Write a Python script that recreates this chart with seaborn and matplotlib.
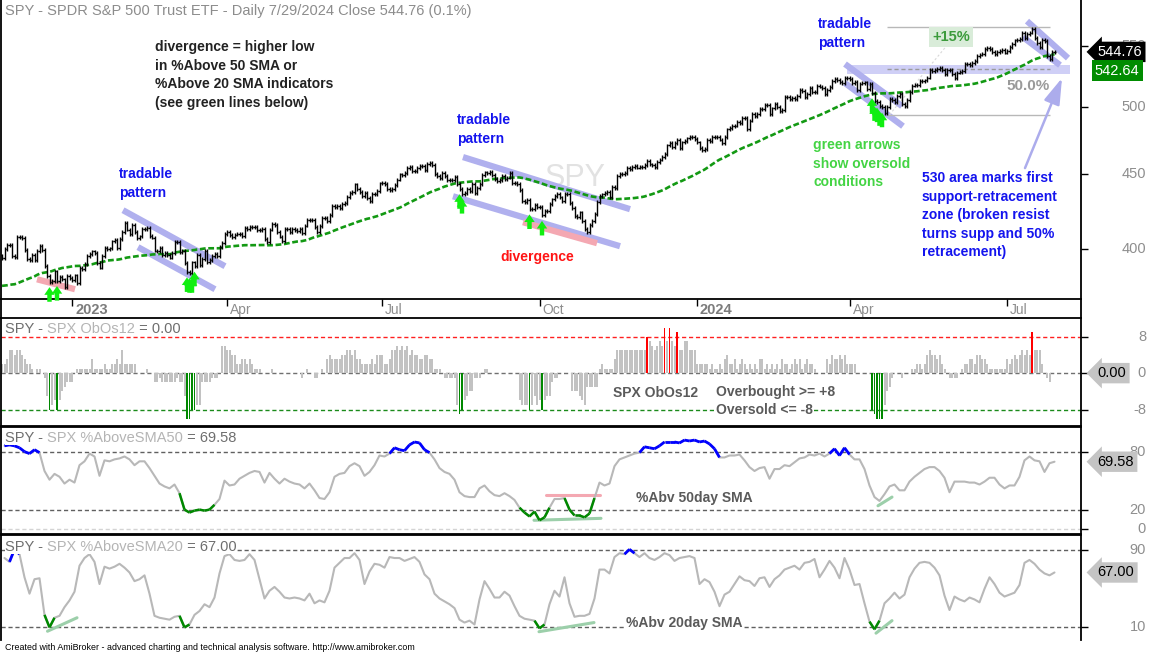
import numpy as np
import pandas as pd
import matplotlib
matplotlib.use('Agg')
import matplotlib.pyplot as plt
from matplotlib.lines import Line2D
from matplotlib.collections import LineCollection
from matplotlib.ticker import NullLocator
import seaborn as sns

sns.set_style('white')
plt.rcParams['font.family'] = ['Liberation Sans', 'DejaVu Sans']

# SPY closes 9/8/2022 - 11/18/2022, only used to seed the 50 day average
warmup_closes = [
    399.4, 405.5, 409.8, 392.0, 393.4, 388.9, 385.6, 388.6, 384.1, 377.4, 374.2, 367.9, 364.3, 363.4, 370.5, 360.2, 357.2,
    366.6, 377.9, 377.1, 373.2, 362.8, 360.0, 357.7, 356.6, 365.9, 357.6, 367.0, 371.1, 368.5, 365.4, 374.3, 378.9, 384.9,
    382.0, 379.9, 389.0, 386.2,
    384.5, 374.9, 371.0, 376.4, 379.9, 382.0, 374.1, 394.7, 398.5, 395.1, 398.5, 395.2, 394.2, 396.0,
]

# SPY daily closes 11/21/2022 - 7/29/2024 (bar 0 .. 421)
closes = [
    394.6, 399.9, 402.4, 402.3, 395.9, 395.2, 407.7,
    407.4, 406.9, 399.6, 393.8, 393.2, 396.2, 393.3, 398.9, 402.0, 399.4, 389.6, 383.3, 380.0, 380.5, 386.2, 380.7,
    382.9, 381.4, 376.7, 383.4, 382.4,
    # 2023
    380.8, 383.8, 379.4, 388.1, 387.9, 390.6, 395.5, 396.8, 398.5, 397.8, 391.5, 388.6, 395.9, 400.6, 400.2, 400.4,
    404.8, 405.7, 400.6, 406.5,
    410.8, 416.8, 412.4, 409.8, 415.2, 410.7, 407.1, 408.0, 412.8, 412.6, 413.7, 408.3, 407.3, 399.1, 398.7, 400.7,
    396.4, 397.4, 396.3,
    394.7, 397.8, 404.2, 404.5, 398.3, 398.9, 391.6, 385.9, 385.4, 391.7, 389.3, 396.5, 390.0, 393.7, 398.9, 392.1,
    393.2, 395.8, 397.0, 395.6, 401.4, 403.7, 409.4,
    411.0, 408.7, 407.6, 409.2, 409.6, 409.7, 408.1, 413.5, 412.5, 413.9, 414.2, 414.2, 411.9, 412.2, 412.6, 406.1,
    404.4, 412.4, 415.9,
    415.5, 410.8, 407.9, 405.0, 412.6, 412.6, 410.8, 412.9, 412.2, 411.6, 412.8, 410.2, 415.0, 418.6, 418.6, 418.8,
    414.1, 411.1, 414.6, 420.0, 420.2, 417.8,
    421.8, 427.9, 427.1, 428.0, 426.6, 429.1, 429.9, 433.8, 436.7, 437.2, 442.6, 439.5, 437.2, 434.9, 436.5, 433.2,
    431.4, 436.2, 436.3, 438.1, 443.3,
    443.8, 443.1, 439.7, 438.6, 439.7, 442.5, 446.0, 449.6, 449.3, 450.8, 454.2, 455.2, 452.2, 452.2, 454.2, 455.4,
    455.5, 452.5, 456.9, 457.8,
    456.5, 450.1, 448.8, 446.8, 450.7, 448.8, 445.8, 445.9, 445.7, 448.1, 442.9, 439.6, 436.3, 436.5, 439.3, 438.2,
    442.9, 436.9, 440.0, 442.8, 449.2, 451.0, 450.4,
    451.2, 449.2, 446.2, 444.9, 445.5, 448.5, 446.5, 447.4, 450.4, 443.4, 443.6, 442.7, 438.6, 431.4, 430.4, 432.2,
    425.9, 426.1, 428.5, 427.5,
    427.3, 421.6, 424.7, 424.5, 429.5, 432.3, 434.5, 436.3, 433.7, 431.5, 436.0, 436.0, 430.2, 426.4, 421.2, 420.5,
    423.6, 418.0, 412.6, 410.7, 415.6, 418.2,
    422.7, 430.8, 434.7, 435.7, 436.9, 437.3, 433.8, 440.6, 440.2, 448.7, 449.7, 450.2, 450.8, 454.2, 453.3, 455.0,
    455.3, 454.5, 454.9, 454.6, 456.4,
    459.1, 456.7, 456.6, 454.8, 458.2, 460.2, 462.0, 464.1, 470.5, 472.0, 469.3, 472.0, 474.8, 468.3, 472.7, 473.7,
    475.7, 476.5, 476.7, 475.3,
    # 2024
    472.7, 468.8, 467.3, 467.9, 474.6, 473.9, 476.6, 476.4, 476.7, 474.9, 472.3, 476.5, 482.4, 483.5, 484.9, 485.4,
    488.0, 487.4, 491.3, 490.9, 482.9,
    489.2, 494.4, 492.6, 494.0, 498.1, 498.3, 501.2, 501.0, 494.1, 498.6, 502.0, 499.5, 496.8, 497.2, 507.5, 507.9,
    506.0, 506.9, 506.3, 508.1,
    512.9, 512.3, 507.2, 509.8, 514.8, 511.7, 511.3, 516.8, 516.0, 515.0, 509.8, 512.9, 515.7, 520.5, 522.2, 521.2,
    519.8, 518.8, 523.2, 523.1,
    522.2, 518.8, 519.4, 513.1, 518.4, 518.7, 519.3, 514.1, 518.0, 510.9, 504.5, 503.5, 500.6, 499.5, 495.2, 499.7,
    505.7, 505.4, 503.5, 508.3, 510.1, 502.0,
    500.4, 505.0, 511.3, 516.8, 517.1, 517.2, 520.2, 520.8, 520.9, 523.3, 529.8, 528.7, 529.5, 530.1, 531.4, 529.8,
    526.0, 529.4, 529.8, 526.1, 522.6, 527.4,
    527.8, 528.4, 534.7, 534.7, 534.0, 535.7, 537.0, 541.4, 542.5, 542.8, 547.1, 548.5, 547.0, 544.5, 542.7, 544.8,
    545.5, 546.4, 544.2,
    545.3, 549.0, 551.5, 554.6, 555.3, 555.8, 561.3, 556.5, 560.0, 561.5, 564.9, 556.9, 552.7, 549.0, 554.7, 553.8,
    541.2, 538.4, 544.4, 544.76,
]
last_sma50 = 542.64

# SPX ObOs12, one value per bar
obos12 = [
    2, 2, 3, 5, 5, 4, 5, 5, 4, 3, 2, 2, 1, 0, 1, 1, 0, -1, -5, -8,
    -7, -6, -8, -6, -4, -3, -2, -2, -2, 0, 1, 1, 1, 1, 1, 1, 3, 1, 1, 1,
    1, 2, 1, 1, 2, 2, 3, 2, 5, 2, 2, 2, 2, 2, 0, 0, 0, 0, 1, 0,
    0, -2, -2, -1, -2, -2, -2, -2, -2, -2, -1, -2, -2, -5, -10, -10, -8, -8, -7, -7,
    -2, -2, -2, -2, -1, -1, -1, 0, 6, 6, 5, 5, 4, 4, 2, 2, 3, 3, 2, 3,
    2, 1, 1, 1, 0, 0, 0, 0, 1, 0, 0, 0, 0, 0, 0, 0, 0, 0, 0, 0,
    -1, 0, 1, 0, 0, -1, -1, 0, 1, 0, 3, 4, 3, 3, 3, 3, 4, 4, 5, 5,
    4, 5, 3, 3, 2, 2, 2, 2, 3, 2, 4, 4, 4, 2, 2, 3, 5, 5, 6, 5,
    6, 5, 6, 4, 5, 4, 4, 3, 3, 4, 4, 3, 3, 1, 1, 1, 0, -1, -1, -1,
    -1, -1, -7, -9, -8, -6, -5, -4, -4, -1, -1, -1, 0, 1, 1, 0, 0, 0, 0, 0,
    0, 0, 0, 0, 0, 0, 0, -6, -7, -7, -7, -8, -7, -5, -7, -6, -8, -6, -5, -5,
    -2, -1, -1, 0, 0, 0, 0, 0, -4, -4, -4, -5, -6, -7, -3, -3, -3, -3, -3, 1,
    2, 1, 1, 1, 1, 3, 5, 5, 5, 5, 5, 5, 5, 5, 5, 5, 5, 5, 8, 7,
    6, 5, 6, 7, 6, 10, 7, 10, 7, 6, 9, 5, 5, 7, 7, 5, 5, 5, 2, 2,
    2, 2, 2, 1, 2, 1, 1, 2, 1, 3, 4, 2, 2, 3, 1, 2, 3, 2, 1, 2,
    1, 2, 1, 3, 3, 1, 2, 1, 2, 1, 2, 1, 3, 2, 2, 1, 2, 3, 2, 3,
    1, 2, 3, 2, 2, 1, 0, 0, 0, 0, 3, 2, 4, 3, 3, 4, 3, 4, 2, 2,
    2, 2, 0, 0, 0, 0, 0, 0, -8, -9, -10, -10, -10, -7, -4, -3, -1, 0, 0, 0,
    -1, 0, 0, 0, 1, 1, 2, 2, 1, 2, 4, 5, 4, 4, 3, 4, 2, 1, 0, -1,
    -1, -1, -1, 0, 1, 2, 2, 3, 3, 2, 4, 4, 3, 3, 2, 1, 1, 1, 1, 1,
    1, 1, 3, 2, 3, 4, 3, 4, 5, 4, 5, 4, 9, 5, 5, 5, 2, 0, -1, -2,
    0, 0,
]

# SPX %Above SMA50 and %Above SMA20, read every second bar (bars 1, 3, ..., 421)
above50 = [
    86, 87, 86, 84, 80, 78, 82, 79, 60, 51,
    57, 54, 47, 51, 48, 66, 70, 78, 75, 55,
    71, 70, 72, 73, 75, 72, 66, 70, 70, 63,
    55, 47, 44, 42, 46, 37, 20, 17, 19, 20,
    19, 20, 25, 31, 50, 45, 46, 52, 55, 58,
    60, 59, 48, 58, 52, 47, 52, 49, 47, 46,
    42, 47, 40, 32, 31, 38, 54, 57, 58, 65,
    68, 65, 55, 59, 66, 76, 75, 78, 84, 82,
    81, 87, 90, 89, 82, 79, 72, 63, 59, 57,
    51, 38, 34, 33, 33, 42, 45, 39, 35, 34,
    37, 34, 30, 22, 17, 13, 18, 9, 12, 22,
    31, 31, 32, 20, 14, 14, 12, 16, 32, 48,
    45, 47, 65, 72, 74, 76, 78, 79, 85, 84,
    83, 86, 90, 90, 90, 89, 92, 91, 92, 90,
    91, 88, 83, 74, 74, 76, 76, 77, 71, 64,
    60, 63, 64, 52, 62, 62, 66, 65, 69, 73,
    74, 77, 76, 78, 75, 78, 83, 76, 84, 77,
    72, 72, 62, 45, 33, 29, 36, 44, 46, 40,
    40, 49, 54, 58, 62, 64, 64, 60, 53, 38,
    49, 49, 49, 48, 48, 46, 49, 53, 53, 46,
    42, 45, 45, 54, 71, 75, 71, 70, 59, 68,
    69.58,
]
above20 = [
    82, 78, 91, 86, 62, 45, 60, 61, 23, 10,
    20, 22, 31, 38, 47, 74, 82, 86, 78, 55,
    73, 71, 73, 76, 72, 67, 58, 60, 64, 45,
    22, 20, 19, 18, 21, 22, 10, 13, 23, 27,
    34, 31, 41, 66, 84, 86, 80, 79, 80, 86,
    80, 60, 40, 48, 52, 47, 41, 40, 41, 40,
    38, 45, 35, 38, 36, 48, 72, 77, 82, 82,
    87, 80, 55, 68, 76, 75, 72, 83, 82, 82,
    79, 81, 83, 78, 65, 60, 45, 40, 37, 34,
    30, 18, 15, 17, 13, 39, 58, 50, 41, 41,
    47, 43, 32, 22, 19, 18, 17, 9, 13, 34,
    48, 42, 62, 35, 21, 22, 22, 24, 40, 70,
    70, 66, 83, 87, 86, 91, 87, 83, 87, 82,
    80, 83, 87, 85, 79, 82, 83, 84, 82, 55,
    60, 57, 47, 32, 44, 47, 55, 63, 59, 58,
    53, 61, 62, 52, 60, 64, 70, 72, 74, 70,
    77, 78, 81, 62, 70, 79, 72, 61, 82, 70,
    54, 55, 35, 16, 8, 17, 35, 40, 46, 40,
    44, 62, 71, 77, 78, 77, 72, 64, 43, 28,
    42, 39, 37, 41, 39, 36, 50, 62, 55, 46,
    42, 44, 46, 54, 77, 80, 76, 70, 66, 64,
    67.00,
]

tick_bars = [28, 90, 152, 215, 278, 339, 402]
tick_labels = ['2023', 'Apr', 'Jul', 'Oct', '2024', 'Apr', 'Jul']

# hand drawn trendlines, (bar, value) end points
channel_lines = [((48.4, 425.1), (89.2, 389.4)), ((54.4, 401.2), (85.2, 375.6)),
                 ((184.4, 462.0), (251.2, 425.8)), ((180.4, 434.5), (247.2, 401.8)),
                 ((337.2, 534.5), (360.0, 500.4)), ((337.2, 518.8), (360.4, 484.9)),
                 ((410.0, 571.7), (426.4, 539.5)), ((408.4, 557.5), (423.2, 533.6))]
divergence_lines = [((14.0, 381.5), (29.2, 375.6)), ((208.4, 417.2), (238.0, 403.7))]
support_zone = (338, 427.2, 526.1, 533.3)
zone_arrow = ((409.2, 454.1), (424.0, 522.9))
abv50_green = [((212.8, 9), (239.6, 11)), ((350.4, 24), (356.0, 33))]
abv50_pink = [((217.6, 35), (239.2, 35))]
abv20_green = [((18.2, 6), (30.0, 20)), ((214.8, 5.5), (236.8, 15)), ((349.6, 4), (356.0, 17))]

W, H = 1150, 655
fig = plt.figure(figsize=(W / 100, H / 100), dpi=100)


def pane(top, bottom):
    return fig.add_axes([1 / W, 1 - bottom / H, 1080 / W, (bottom - top) / H])


ax_p = pane(0, 299)
ax_o = pane(318, 426)
ax_5 = pane(427, 534)
ax_2 = pane(535, 640)

GRAYTXT = '#8e8e8e'

for ax in (ax_p, ax_o, ax_5, ax_2):
    ax.set_xlim(-0.4, 431.6)
    ax.set_xlabel('')
    ax.set_ylabel('')
    for s in ax.spines.values():
        s.set_color('black')
        s.set_linewidth(1.3)
    ax.tick_params(axis='y', which='both', left=False, right=True, labelleft=False, labelright=False,
                   length=5, width=1, color='black', direction='out')
ax_p.spines['top'].set_visible(False)
ax_2.spines['bottom'].set_visible(False)
for ax in (ax_o, ax_5, ax_2):
    ax.set_xticks([])

for xp in (1, 1081):
    fig.add_artist(Line2D([xp / W, xp / W], [1 - 318 / H, 1 - 299 / H], color='black', lw=1.3))


def right_labels(ax, vals, labels):
    ax.set_yticks(vals)
    ax.yaxis.set_minor_locator(NullLocator())
    for v, s in zip(vals, labels):
        ax.text(1.0602, v, s, transform=ax.get_yaxis_transform(), ha='right', va='center',
                color=GRAYTXT, fontsize=10.5, zorder=1)


def value_box(ax, v, label, fc, tc, dy=0.0, arrow=True):
    style = 'larrow,pad=0.22' if arrow else 'square,pad=0.22'
    ax.annotate(label, xy=(1, v), xycoords=ax.get_yaxis_transform(),
                xytext=(12 if arrow else 10, dy), textcoords='offset points',
                ha='left', va='center', color=tc, fontsize=10.5, zorder=5,
                bbox=dict(boxstyle=style, fc=fc, ec='none'), annotation_clip=False)


def ptext(ax, x, y, s, **kw):
    # x, y in figure pixels
    bb = ax.get_position()
    return ax.text((x / W - bb.x0) / bb.width, ((1 - y / H) - bb.y0) / bb.height, s,
                   transform=ax.transAxes, **kw)


# ---------------- price pane ----------------
n = len(closes)
bars = np.arange(n)
c = np.array(closes)
o = np.r_[warmup_closes[-1], c[:-1]]
hi = np.maximum(o, c) * 1.003
lo = np.minimum(o, c) * 0.997
sma = pd.Series(warmup_closes + closes).rolling(50).mean().iloc[len(warmup_closes):].to_numpy()

ax_p.set_yscale('log')
ax_p.set_ylim(369.9, 590.9)

ax_p.fill_between([support_zone[0], support_zone[1]], support_zone[2], support_zone[3],
                  color='#cfcff6', lw=0, zorder=1)
for (x0, y0), (x1, y1) in channel_lines:
    ax_p.plot([x0, x1], [y0, y1], color='#b0b0ee', lw=4.5, solid_capstyle='butt', zorder=1)
for (x0, y0), (x1, y1) in divergence_lines:
    ax_p.plot([x0, x1], [y0, y1], color='#f4a8b2', lw=4.5, solid_capstyle='butt', zorder=1)

ptext(ax_p, 575, 178, 'SPY', fontsize=22, color='#e2e2e2', ha='center', va='center', zorder=0)

# retracement tool
peak = hi.max()
trough_i = 330 + int(np.argmin(lo[330:370]))
trough = lo[trough_i]
ret_end = 419.2
ax_p.hlines([peak, trough], trough_i + 1, ret_end, color='#b8b8b8', lw=1, zorder=1)
ax_p.hlines((peak + trough) / 2, trough_i + 1, ret_end, color='#9a9a9a', lw=1,
            linestyles=(0, (3, 2)), zorder=1)
ax_p.plot([trough_i + 2, 379], [trough, 553], color='#d8d8d8', lw=0.8, ls=(0, (2, 2)), zorder=1)
ax_p.annotate('50.0%', xy=(ret_end, (peak + trough) / 2), xytext=(0, -7), textcoords='offset points',
              ha='right', va='top', color='#9a9a9a', fontsize=11, fontweight='bold')
ax_p.text(379.6, 557.5, '+15%', ha='center', va='center', color='#3c9b3c', fontsize=10.5,
          fontweight='bold', bbox=dict(boxstyle='square,pad=0.2', fc='#d9ecd9', ec='none'))

ax_p.vlines(bars, lo, hi, color='black', lw=1, zorder=3)
ax_p.hlines(o, bars - 0.55, bars, color='black', lw=1, zorder=3)
ax_p.hlines(c, bars, bars + 0.55, color='black', lw=1, zorder=3)

sns.lineplot(x=bars, y=sma, ax=ax_p, color='#139913', lw=1.9, errorbar=None)
ax_p.lines[-1].set_linestyle((0, (2.2, 1.0)))
ax_p.lines[-1].set_zorder(2)

ob = np.array(obos12)
for i in np.where(ob <= -8)[0]:
    ax_p.annotate('', xy=(i, lo[i]), xytext=(0, -13), textcoords='offset points', annotation_clip=False,
                  arrowprops=dict(arrowstyle='simple,head_width=0.75,head_length=0.55,tail_width=0.32',
                                  fc='#11ee11', ec='none', shrinkA=0, shrinkB=2.5))

ax_p.annotate('', xy=zone_arrow[1], xytext=zone_arrow[0],
              arrowprops=dict(arrowstyle='-|>,head_length=0.8,head_width=0.25', color='#acacec',
                              lw=1.8, mutation_scale=20, shrinkA=0, shrinkB=0))

right_labels(ax_p, [400, 450, 500, 550], ['400', '450', '500', '550'])
value_box(ax_p, c[-1], f'{c[-1]:.2f}', 'black', 'white')
value_box(ax_p, c[-1], f'{last_sma50:.2f}', '#008c00', 'white', dy=-13.5, arrow=False)

ax_p.set_xticks(tick_bars)
ax_p.tick_params(axis='x', length=5, width=1, color='black', direction='out', bottom=True, labelbottom=False)
for b, s in zip(tick_bars, tick_labels):
    year = s.isdigit()
    ax_p.text(b + 1.2, -0.037, s, transform=ax_p.get_xaxis_transform(), ha='left', va='center',
              fontsize=10.5 if year else 10, fontweight='bold' if year else 'normal',
              color='#7c7c7c' if year else GRAYTXT)

ptext(ax_p, 5, 11, 'SPY - SPDR S&P 500 Trust ETF - Daily 7/29/2024 Close 544.76 (0.1%)',
      color='#8c8c8c', fontsize=10.5, va='center')
ptext(ax_p, 155, 40, 'divergence = higher low\nin %Above 50 SMA or\n%Above 20 SMA indicators\n(see green lines below)',
      fontsize=10, fontweight='bold', color='#222222', va='top', linespacing=1.42)
for x, y in [(119, 167), (457, 113), (818, 17)]:
    ptext(ax_p, x, y, 'tradable\npattern', fontsize=10, fontweight='bold', color='#1414ee',
          va='top', linespacing=1.42)
ptext(ax_p, 500, 257, 'divergence', fontsize=10, fontweight='bold', color='#ff1414', va='center')
ptext(ax_p, 813, 138, 'green arrows\nshow oversold\nconditions', fontsize=10, fontweight='bold',
      color='#44d444', va='top', linespacing=1.42)
ptext(ax_p, 922, 171, '530 area marks first\nsupport-retracement\nzone (broken resist\nturns supp and 50%\nretracement)',
      fontsize=10, fontweight='bold', color='#1414ee', va='top', linespacing=1.42)

# ---------------- ObOs12 pane ----------------
ax_o.set_ylim(-11.6, 12.1)
for v, col in [(8, '#ff2020'), (0, '#707070'), (-8, '#1a8a1a')]:
    ax_o.axhline(v, color=col, lw=1, ls=(0, (3, 2)), zorder=1)
mid = (ob > -8) & (ob < 8)
ax_o.bar(bars[mid], ob[mid], width=0.8, color='#c2c2c2', lw=0, zorder=2)
ax_o.bar(bars[ob >= 8], ob[ob >= 8], width=0.55, color='#ff0000', lw=0, zorder=2)
ax_o.bar(bars[ob <= -8], ob[ob <= -8], width=0.55, color='#008800', lw=0, zorder=2)
right_labels(ax_o, [8, 0, -8], ['8', '0', '-8'])
value_box(ax_o, ob[-1], f'{ob[-1]:.2f}', '#c4c4c4', 'black')
ptext(ax_o, 613, 393, 'SPX ObOs12', fontsize=10, fontweight='bold', color='#5a5a5a', va='center')
ptext(ax_o, 716, 392, 'Overbought >= +8', fontsize=10, fontweight='bold', color='#5a5a5a', va='center')
ptext(ax_o, 716, 410, 'Oversold <= -8', fontsize=10, fontweight='bold', color='#5a5a5a', va='center',
      bbox=dict(boxstyle='square,pad=0.05', fc='white', ec='none'))


# ---------------- breadth panes ----------------
def colored(ax, x, y, cond, color, lw):
    segs = [[(x[k], y[k]), (x[k + 1], y[k + 1])] for k in range(len(y) - 1) if cond[k] or cond[k + 1]]
    ax.add_collection(LineCollection(segs, colors=color, linewidths=lw, zorder=3))


def breadth(ax, vals, lo_lim, hi_lim, ylim, ref_lines, lows, highs=()):
    y = np.array(vals, dtype=float)
    x = np.arange(1, 2 * len(y), 2)
    ax.set_ylim(*ylim)
    for v, col in ref_lines:
        ax.axhline(v, color=col, lw=1, ls=(0, (3, 2)), zorder=1)
    for (x0, y0), (x1, y1) in lows:
        ax.plot([x0, x1], [y0, y1], color='#9ccfaa', lw=2.2, zorder=2)
    for (x0, y0), (x1, y1) in highs:
        ax.plot([x0, x1], [y0, y1], color='#f4a8b2', lw=2.2, zorder=2)
    sns.lineplot(x=x, y=y, ax=ax, color='#b8b8b8', lw=1.5, errorbar=None)
    colored(ax, x, y, y >= hi_lim, '#0000ff', 2)
    colored(ax, x, y, y <= lo_lim, '#008800', 1.8)
    ax.set_xlim(-0.4, 431.6)
    ax.set_xlabel('')
    ax.set_ylabel('')
    return y


y50 = breadth(ax_5, above50, 20, 80, (-5.2, 105.5),
              [(80, '#606060'), (20, '#606060'), (0, '#d4d4d4')], abv50_green, abv50_pink)
right_labels(ax_5, [80, 20, 0], ['80', '20', '0'])
value_box(ax_5, y50[-1], f'{y50[-1]:.2f}', '#c4c4c4', 'black')
ptext(ax_5, 636, 498, '%Abv 50day SMA', fontsize=10, fontweight='bold', color='#5a5a5a', va='center')

y20 = breadth(ax_2, above20, 10, 90, (-3.1, 105.9), [(90, '#606060'), (10, '#606060')], abv20_green)
right_labels(ax_2, [90, 10], ['90', '10'])
value_box(ax_2, y20[-1], f'{y20[-1]:.2f}', '#c4c4c4', 'black')
ptext(ax_2, 626, 623, '%Abv 20day SMA', fontsize=10, fontweight='bold', color='#5a5a5a', va='center',
      bbox=dict(boxstyle='square,pad=0.05', fc='white', ec='none'))


# pane titles: "SPY - " dark, indicator name light, value dark, on a white ground
def pane_title(ax, y, name, value):
    bg = dict(boxstyle='square,pad=0.02', fc='white', ec='none')
    t = ptext(ax, 5, y, 'SPY - ', color='#6e6e6e', fontsize=10.5, va='center', zorder=6, bbox=bg)
    t2 = ax.annotate(name, xy=(1, 0), xycoords=t, va='bottom', color='#b4b4b4', fontsize=10.5,
                     zorder=6, bbox=bg)
    ax.annotate(f' = {value:.2f}', xy=(1, 0), xycoords=t2, va='bottom', color='#6e6e6e', fontsize=10.5,
                zorder=6, bbox=bg)


pane_title(ax_o, 329, 'SPX ObOs12', ob[-1])
pane_title(ax_5, 438, 'SPX %AboveSMA50', y50[-1])
pane_title(ax_2, 547, 'SPX %AboveSMA20', y20[-1])

fig.text(5 / W, 1 - 648 / H,
         'Created with AmiBroker - advanced charting and technical analysis software. http://www.amibroker.com',
         fontsize=6.4, color='black', va='center')

fig.savefig('out.png', dpi=100)
